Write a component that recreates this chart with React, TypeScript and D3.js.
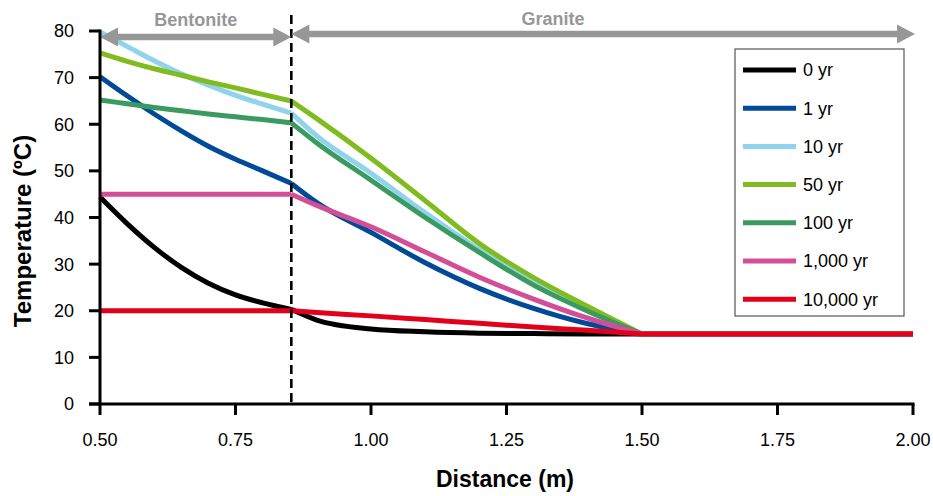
import React from "react";
import * as d3 from "d3";

// ---- data ----
const distance = [0.5, 0.55, 0.6, 0.65, 0.7, 0.75, 0.8, 0.853, 0.9, 1.0, 1.1, 1.2, 1.3, 1.4, 1.5, 2.0];
const yr0 = [44.4, 38.7, 33.6, 29.3, 25.9, 23.4, 21.7, 20.3, 18.0, 16.1, 15.5, 15.2, 15.1, 15.0, 15.0, 15.0];
const yr1 = [70.2, 66.1, 62.2, 58.6, 55.3, 52.5, 50.0, 47.3, 43.2, 36.8, 30.3, 24.8, 20.5, 17.2, 15.0, 15.0];
const yr10 = [79.8, 76.7, 73.6, 70.8, 68.4, 66.2, 64.3, 62.4, 57.5, 49.5, 41.0, 33.1, 26.0, 20.2, 15.0, 15.0];
const yr50 = [75.3, 73.5, 71.9, 70.5, 69.1, 67.8, 66.4, 65.0, 61.2, 52.7, 43.6, 34.4, 27.1, 20.9, 15.0, 15.0];
const yr100 = [65.2, 64.4, 63.6, 62.9, 62.2, 61.6, 61.0, 60.3, 56.0, 48.0, 40.0, 32.5, 25.5, 19.9, 15.0, 15.0];
const yr1000 = [45, 45, 45, 45, 45, 45, 45, 45, 42.6, 38.0, 32.6, 27.2, 22.5, 18.4, 15.0, 15.0];
const yr10000 = [20, 20, 20, 20, 20, 20, 20, 20, 19.6, 18.9, 18.1, 17.3, 16.5, 15.8, 15.0, 15.0];

const seriesNames = ["0 yr", "1 yr", "10 yr", "50 yr", "100 yr", "1,000 yr", "10,000 yr"];
const seriesValues = [yr0, yr1, yr10, yr50, yr100, yr1000, yr10000];
const seriesColors = ["#000000", "#004a98", "#8fd3ec", "#80bc1f", "#3a9a60", "#d24f98", "#e3001b"];

const xTicks = [0.5, 0.75, 1.0, 1.25, 1.5, 1.75, 2.0];
const yTicks = [0, 10, 20, 30, 40, 50, 60, 70, 80];
const boundary = 0.853;
const convergence = 1.5;
const zoneLabels = ["Bentonite", "Granite"];

const FONT = "'Liberation Sans', Arial, Helvetica, sans-serif";
const GREY = "#979797";

function arrowPath(x1: number, x2: number, y: number) {
  const hl = 18, hh = 9.5, sw = 3.2;
  return [
    `M${x1},${y}`,
    `L${x1 + hl},${y - hh}`,
    `L${x1 + hl},${y - sw}`,
    `L${x2 - hl},${y - sw}`,
    `L${x2 - hl},${y - hh}`,
    `L${x2},${y}`,
    `L${x2 - hl},${y + hh}`,
    `L${x2 - hl},${y + sw}`,
    `L${x1 + hl},${y + sw}`,
    `L${x1 + hl},${y + hh}`,
    "Z",
  ].join(" ");
}

export default function App() {
  const W = 933, H = 496;
  const x = d3.scaleLinear().domain([0.5, 2.0]).range([100, 913]);
  const y = d3.scaleLinear().domain([0, 80]).range([404, 31]);

  const line = d3
    .line<[number, number]>()
    .x((d) => x(d[0]))
    .y((d) => y(d[1]))
    .curve(d3.curveMonotoneX);

  const iB = distance.indexOf(boundary);
  const iC = distance.indexOf(convergence);
  const segments = (vals: number[]) => {
    const pts: [number, number][] = distance.map((d, i) => [d, vals[i]]);
    return [pts.slice(0, iB + 1), pts.slice(iB, iC + 1), pts.slice(iC)];
  };

  const bx = x(boundary);
  const legendX = 735, legendY = 49, legendW = 169, legendH = 267;
  const rowH = 38.2;

  return (
    <svg
      width={W}
      height={H}
      style={{ position: "absolute", left: 0, top: 0, background: "#fff" }}
      fontFamily={FONT}
    >
      <rect x={0} y={0} width={W} height={H} fill="#fff" />

      {/* series */}
      {seriesValues.map((vals, i) => (
        <path
          key={seriesNames[i]}
          d={segments(vals).map((s) => line(s) || "").join(" ")}
          fill="none"
          stroke={seriesColors[i]}
          strokeWidth={5}
          strokeLinejoin="round"
        />
      ))}

      {/* boundary dashed line */}
      <line x1={bx} x2={bx} y1={15} y2={404} stroke="#000" strokeWidth={2.6} strokeDasharray="9,5" />

      {/* zone arrows */}
      <path d={arrowPath(x(0.5), bx, 37)} fill={GREY} />
      <path d={arrowPath(bx, x(2.0) + 2, 34)} fill={GREY} />
      <text x={(x(0.5) + bx) / 2} y={26} textAnchor="middle" fontSize={18} fontWeight="bold" fill={GREY}>
        {zoneLabels[0]}
      </text>
      <text x={553} y={25} textAnchor="middle" fontSize={18} fontWeight="bold" fill={GREY}>
        {zoneLabels[1]}
      </text>

      {/* axes */}
      <line x1={x(0.5)} x2={x(0.5)} y1={y(80) - 1.5} y2={y(0) + 1.5} stroke="#000" strokeWidth={3} />
      <line x1={89} x2={x(2.0) + 1.5} y1={y(0)} y2={y(0)} stroke="#000" strokeWidth={3} />
      {yTicks.map((t) => (
        <g key={"y" + t}>
          <line x1={89} x2={100} y1={y(t)} y2={y(t)} stroke="#000" strokeWidth={3} />
          <text x={74} y={y(t)} dy="0.36em" textAnchor="end" fontSize={18} fill="#000">
            {t}
          </text>
        </g>
      ))}
      {xTicks.map((t) => (
        <g key={"x" + t}>
          <line x1={x(t)} x2={x(t)} y1={404} y2={415} stroke="#000" strokeWidth={3} />
          <text x={x(t)} y={446} textAnchor="middle" fontSize={18} fill="#000">
            {d3.format(".2f")(t)}
          </text>
        </g>
      ))}

      {/* axis titles */}
      <text x={505} y={487} textAnchor="middle" fontSize={23} fontWeight="bold" fill="#000">
        Distance (m)
      </text>
      <text
        transform={`translate(31,231) rotate(-90)`}
        textAnchor="middle"
        fontSize={24}
        fontWeight="bold"
        fill="#000"
      >
        Temperature (ºC)
      </text>

      {/* legend */}
      <rect x={legendX} y={legendY} width={legendW} height={legendH} fill="#fff" stroke="#555" strokeWidth={1.2} />
      {seriesNames.map((name, i) => {
        const cy = 70 + i * rowH;
        return (
          <g key={"lg" + name}>
            <line x1={743} x2={796} y1={cy} y2={cy} stroke={seriesColors[i]} strokeWidth={5} />
            <text x={803} y={cy} dy="0.36em" fontSize={18} fill="#000">
              {name}
            </text>
          </g>
        );
      })}
    </svg>
  );
}
